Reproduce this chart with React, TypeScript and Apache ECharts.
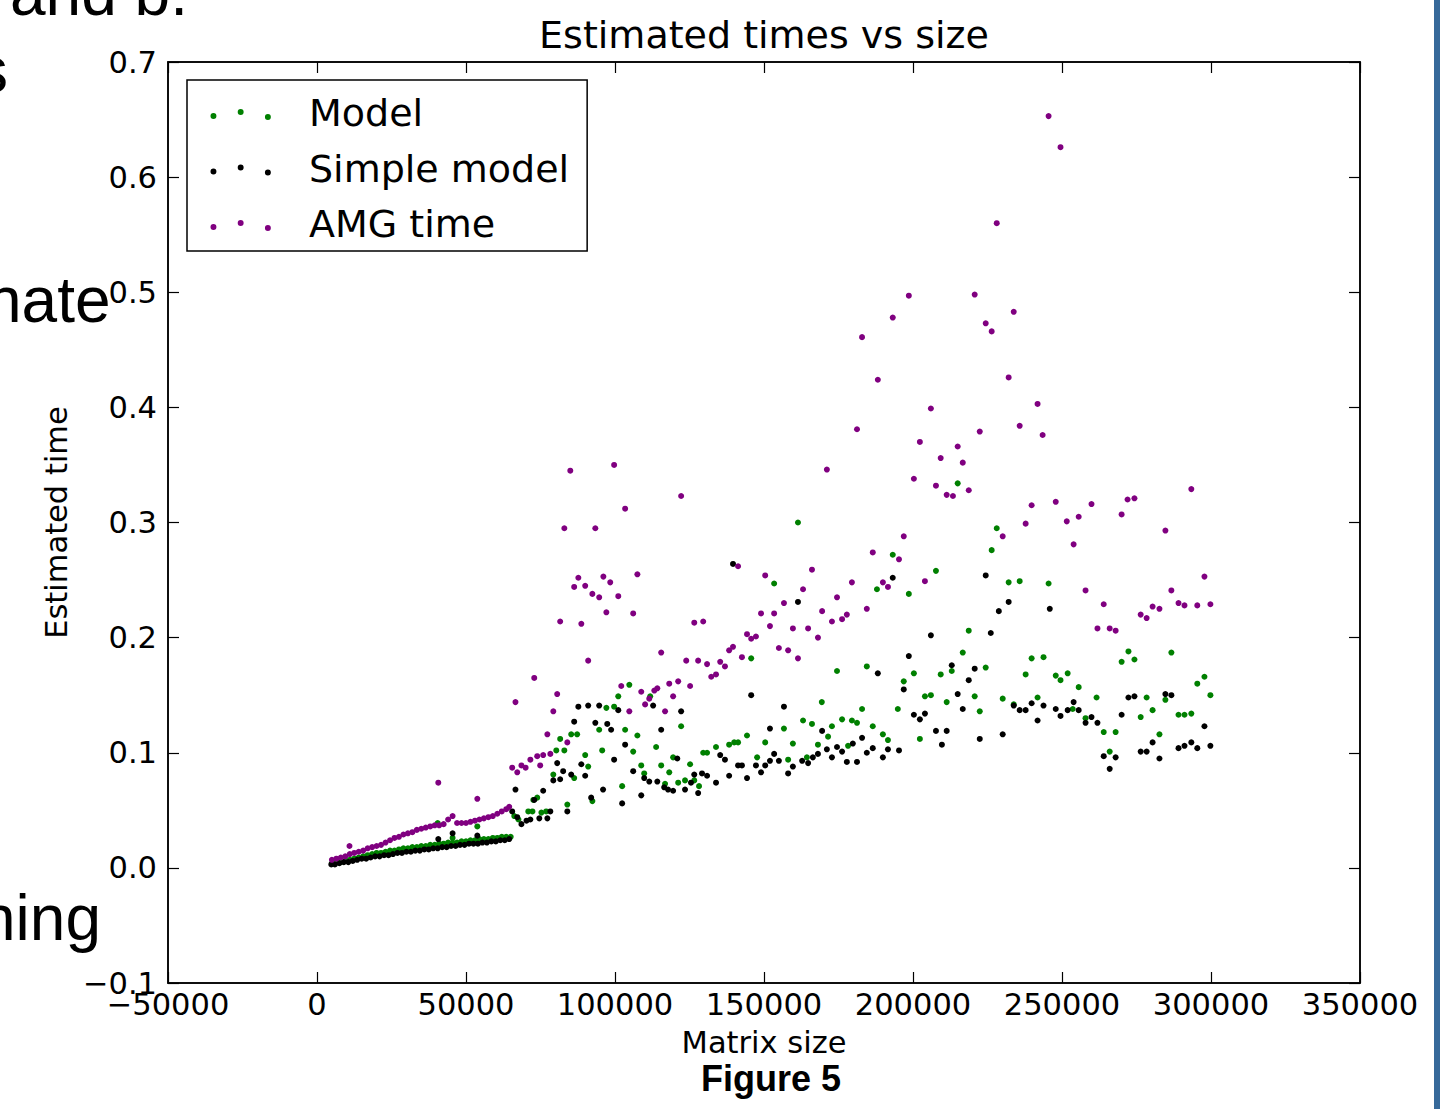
import React, { useEffect, useRef } from "react";
import * as echarts from "echarts";

// ---- data ----
const seriesNames = ["Model", "Simple model", "AMG time"];
const seriesColors = ["#008000", "#000000", "#800080"];

const xMin = -50000;
const xMax = 350000;
const xStep = 50000;
const yMin = -0.1;
const yMax = 0.7;
const yStep = 0.1;

// dense near-linear band for small matrices
const modelDense: number[][] = [
  [5000, 0.004], [6500, 0.005], [8000, 0.005], [9500, 0.006], [11000, 0.007], [12500, 0.008],
  [14000, 0.009], [15500, 0.010], [17000, 0.011], [18500, 0.012], [20000, 0.013], [21500, 0.013],
  [23000, 0.014], [24500, 0.015], [26000, 0.015], [27500, 0.016], [29000, 0.017], [30500, 0.017],
  [32000, 0.018], [33500, 0.018], [35000, 0.019], [36500, 0.019], [38000, 0.020], [39500, 0.020],
  [41000, 0.021], [42500, 0.021], [44000, 0.022], [45500, 0.022], [47000, 0.022], [48500, 0.023],
  [50000, 0.023], [51500, 0.024], [53000, 0.024], [54500, 0.025], [56000, 0.025], [57500, 0.025],
  [59000, 0.026], [60500, 0.026], [62000, 0.027], [63500, 0.027], [65000, 0.027],
];
const modelPoints: number[][] = [
  [40500, 0.039], [53800, 0.036], [45500, 0.026],
  [66200, 0.045], [67600, 0.042], [70900, 0.049], [72300, 0.049], [75300, 0.048], [76900, 0.049],
  [72600, 0.059], [73900, 0.061], [84000, 0.055], [92400, 0.058], [79300, 0.081], [86300, 0.078],
  [80300, 0.102], [83000, 0.102], [81600, 0.112], [85300, 0.116], [87300, 0.116], [90000, 0.098],
  [91000, 0.088], [95700, 0.102], [94700, 0.120], [97100, 0.139], [99700, 0.140], [101100, 0.149],
  [104800, 0.159], [103400, 0.120], [107500, 0.115], [111800, 0.149], [106100, 0.101], [113800, 0.105],
  [108800, 0.089], [109800, 0.082], [115500, 0.089], [118200, 0.083], [119500, 0.096], [122200, 0.123],
  [125200, 0.090], [126600, 0.076], [128200, 0.071], [102400, 0.071], [116800, 0.073], [121200, 0.074],
  [123500, 0.076], [129600, 0.100], [130900, 0.100], [133900, 0.105], [138300, 0.107], [140000, 0.109],
  [141300, 0.109], [144300, 0.115], [145700, 0.182], [147700, 0.096], [150400, 0.109], [153400, 0.247],
  [156700, 0.121], [159700, 0.108], [158100, 0.094], [161400, 0.300], [164400, 0.096], [166100, 0.125],
  [163100, 0.128], [168100, 0.107], [169400, 0.144], [171500, 0.114], [172800, 0.123], [174500, 0.171],
  [176200, 0.129], [178200, 0.106], [179500, 0.128], [181200, 0.126], [182900, 0.138], [184500, 0.175],
  [186500, 0.123], [187900, 0.242], [189900, 0.116], [191600, 0.111], [193200, 0.272], [194900, 0.138],
  [196900, 0.162], [198600, 0.238], [200300, 0.169], [202300, 0.112], [204000, 0.149], [206000, 0.150],
  [207700, 0.258], [209300, 0.168], [211300, 0.144], [213000, 0.171], [215000, 0.334], [216700, 0.187],
  [218700, 0.206], [220700, 0.149], [222400, 0.136], [224400, 0.174], [226400, 0.276], [228100, 0.295],
  [230100, 0.147], [232100, 0.248], [233800, 0.142], [235800, 0.249], [237800, 0.168], [239800, 0.182],
  [241800, 0.148], [243800, 0.183], [245500, 0.247], [247900, 0.167], [249500, 0.163], [251900, 0.169],
  [253600, 0.138], [255600, 0.157], [257900, 0.130], [261600, 0.148], [264000, 0.118], [266000, 0.101],
  [268000, 0.118], [270000, 0.179], [272300, 0.188], [274300, 0.181], [276400, 0.131], [278400, 0.148],
  [280400, 0.137], [282700, 0.116], [284700, 0.146], [286700, 0.187], [289100, 0.133], [291100, 0.133],
  [293400, 0.134], [295400, 0.160], [297800, 0.166], [299800, 0.150],
];

const simpleDense: number[][] = [
  [4800, 0.003], [6000, 0.003], [7500, 0.004], [9000, 0.005], [10500, 0.005], [12000, 0.006],
  [13500, 0.007], [15000, 0.008], [16500, 0.008], [18000, 0.009], [19500, 0.010], [21000, 0.010],
  [22500, 0.011], [24000, 0.011], [25500, 0.012], [27000, 0.013], [28500, 0.013], [30000, 0.014],
  [31500, 0.014], [33000, 0.015], [34500, 0.015], [36000, 0.016], [37500, 0.016], [39000, 0.017],
  [40500, 0.017], [42000, 0.018], [43500, 0.018], [45000, 0.019], [46500, 0.019], [48000, 0.020],
  [49500, 0.020], [51000, 0.021], [52500, 0.021], [54000, 0.021], [55500, 0.022], [57000, 0.022],
  [58500, 0.023], [60000, 0.023], [61500, 0.024], [63000, 0.024], [64500, 0.025],
];
const simplePoints: number[][] = [
  [40700, 0.025], [45500, 0.030], [53800, 0.028], [66600, 0.068], [65500, 0.049], [67200, 0.044],
  [68600, 0.038], [70300, 0.041], [71600, 0.042], [74600, 0.043], [77300, 0.043], [78300, 0.049],
  [84000, 0.049], [72900, 0.059], [75900, 0.067], [79300, 0.076], [81600, 0.077], [85300, 0.081],
  [82600, 0.084], [90000, 0.080], [80600, 0.091], [88700, 0.090], [92000, 0.061], [96000, 0.068],
  [102400, 0.056], [108800, 0.063], [99700, 0.094], [103400, 0.107], [106100, 0.084], [109800, 0.078],
  [111500, 0.075], [114200, 0.075], [116500, 0.070], [117800, 0.068], [119500, 0.067], [123500, 0.068],
  [125500, 0.074], [127900, 0.065], [120900, 0.095], [126600, 0.081], [129200, 0.082], [130900, 0.080],
  [133900, 0.074], [135300, 0.098], [136900, 0.094], [138300, 0.080], [141300, 0.089], [142600, 0.089],
  [144300, 0.078], [147300, 0.089], [149000, 0.083], [150400, 0.089], [152000, 0.093], [153400, 0.099],
  [87700, 0.140], [91000, 0.141], [94700, 0.141], [101100, 0.137], [112800, 0.141], [122200, 0.136],
  [86300, 0.127], [93400, 0.126], [97400, 0.125], [98700, 0.120], [115500, 0.120], [152000, 0.121],
  [145700, 0.150], [139600, 0.264], [161400, 0.231], [156700, 0.140], [155000, 0.093], [159700, 0.088],
  [158100, 0.082], [162800, 0.093], [164800, 0.091], [166400, 0.096], [168100, 0.099], [169500, 0.119],
  [171100, 0.103], [172800, 0.096], [174500, 0.105], [176200, 0.101], [177800, 0.092], [179800, 0.108],
  [181200, 0.092], [182900, 0.113], [184500, 0.100], [186500, 0.104], [188200, 0.169], [189900, 0.096],
  [191600, 0.103], [193200, 0.252], [195300, 0.102], [196900, 0.155], [198600, 0.184], [200300, 0.133],
  [202300, 0.129], [204000, 0.134], [206000, 0.202], [207700, 0.119], [209700, 0.107], [211300, 0.119],
  [213000, 0.176], [215000, 0.151], [216700, 0.138], [218700, 0.163], [220700, 0.173], [222400, 0.112],
  [224400, 0.254], [226100, 0.204], [228800, 0.223], [230100, 0.116], [232100, 0.231], [233800, 0.141],
  [235800, 0.137], [237800, 0.137], [239800, 0.143], [241800, 0.128], [243800, 0.141], [245900, 0.225],
  [247900, 0.138], [249500, 0.132], [251900, 0.137], [253900, 0.144], [255600, 0.137], [257900, 0.126],
  [259900, 0.131], [261900, 0.126], [264000, 0.097], [266000, 0.086], [268000, 0.096], [270000, 0.133],
  [272300, 0.148], [274300, 0.149], [276400, 0.101], [278400, 0.101], [280400, 0.109], [282700, 0.095],
  [284700, 0.151], [286700, 0.150], [289100, 0.104], [291100, 0.106], [293400, 0.109], [295400, 0.104],
  [297800, 0.123], [299800, 0.106],
];

const amgDense: number[][] = [
  [5000, 0.007], [6500, 0.008], [8000, 0.009], [9500, 0.010], [11000, 0.012], [12500, 0.013],
  [14000, 0.014], [15500, 0.015], [17000, 0.017], [18500, 0.018], [20000, 0.019], [21500, 0.020],
  [23000, 0.022], [24500, 0.024], [26000, 0.026], [27500, 0.027], [29000, 0.029], [30500, 0.030],
  [32000, 0.031], [33500, 0.033], [35000, 0.034], [36500, 0.035], [38000, 0.036], [39500, 0.037],
  [41000, 0.037], [42500, 0.038], [44000, 0.042], [45500, 0.045], [47000, 0.039], [48500, 0.039],
  [50000, 0.039], [51500, 0.040], [53000, 0.041], [54500, 0.042], [56000, 0.043], [57500, 0.044],
  [59000, 0.045], [60500, 0.047], [62000, 0.049], [63500, 0.051], [64500, 0.053],
];
const amgPoints: number[][] = [
  [10900, 0.019], [40700, 0.074], [53800, 0.060],
  [65500, 0.087], [66600, 0.144], [67200, 0.083], [68600, 0.089], [70000, 0.087], [71600, 0.094],
  [73900, 0.097], [74900, 0.089], [75900, 0.098], [78300, 0.099],
  [72900, 0.165], [77300, 0.116], [79300, 0.136], [80600, 0.151], [84000, 0.109],
  [81600, 0.214], [91000, 0.180], [88700, 0.212], [83000, 0.295], [85000, 0.345], [93400, 0.295],
  [99700, 0.350], [103400, 0.312], [122200, 0.323], [107500, 0.255], [87700, 0.252], [86300, 0.244],
  [90000, 0.245], [96100, 0.253], [98400, 0.248], [92400, 0.238], [94700, 0.235], [101100, 0.236],
  [97100, 0.222], [106100, 0.221],
  [115500, 0.187], [126600, 0.213], [129600, 0.214], [123900, 0.180], [127900, 0.180], [130900, 0.177],
  [135300, 0.179], [136900, 0.175], [132300, 0.166], [133900, 0.168], [138300, 0.189], [139600, 0.192],
  [142600, 0.183], [144300, 0.203], [145700, 0.199], [147300, 0.201], [149000, 0.221], [153400, 0.221],
  [150400, 0.254], [152000, 0.210], [141300, 0.262],
  [125200, 0.158], [121200, 0.162], [118200, 0.160], [119500, 0.149], [114200, 0.156], [113200, 0.154],
  [111500, 0.147], [108800, 0.153], [110100, 0.142], [116800, 0.136], [102100, 0.158], [104800, 0.136],
  [156700, 0.230], [155000, 0.191], [158100, 0.189], [159700, 0.208], [161400, 0.182], [164800, 0.208],
  [163100, 0.242], [166100, 0.259], [168100, 0.200], [169500, 0.223], [172800, 0.214], [174500, 0.235],
  [176200, 0.216], [177800, 0.220], [179500, 0.248], [184500, 0.225], [186500, 0.274], [189900, 0.248],
  [191600, 0.244], [195300, 0.268], [196900, 0.288], [204000, 0.249],
  [200300, 0.338], [207700, 0.332], [211300, 0.324], [213400, 0.323], [218700, 0.328], [171100, 0.346],
  [181200, 0.381], [188200, 0.424], [182900, 0.461], [193200, 0.478], [198600, 0.497], [220700, 0.498],
  [228100, 0.560], [224400, 0.473], [226400, 0.466], [233800, 0.483], [245500, 0.653], [249500, 0.626],
  [232100, 0.426], [206000, 0.399], [241800, 0.403], [235800, 0.384], [222400, 0.379], [243500, 0.376],
  [202300, 0.370], [215000, 0.366], [209300, 0.356], [216700, 0.352],
  [230100, 0.288], [237800, 0.299], [239800, 0.315], [247900, 0.318], [251600, 0.301], [253900, 0.281],
  [255600, 0.305], [259900, 0.316], [270000, 0.307], [272000, 0.320], [274300, 0.321], [284700, 0.293],
  [293400, 0.329], [257900, 0.241], [264000, 0.229], [261900, 0.208], [266000, 0.208], [268000, 0.206],
  [276400, 0.220], [278400, 0.217], [280400, 0.227], [282700, 0.225], [286700, 0.241], [289100, 0.230],
  [291100, 0.228], [295400, 0.228], [297800, 0.253], [299800, 0.229],
];

const slideFragments = ["and b.", "s", "nate", "hing"];
const captionText = "Figure 5";
const titleText = "Estimated times vs size";
const xName = "Matrix size";
const yName = "Estimated time";

const FONT = "DejaVu Sans";
const SLIDE_FONT = "Liberation Sans";

const minus = (s: string) => s.replace("-", "\u2212");

export default function App() {
  const ref = useRef<HTMLDivElement>(null);

  useEffect(() => {
    document.body.style.margin = "0";
    if (!ref.current) return;
    const chart = echarts.init(ref.current, undefined, { renderer: "svg" });

    const legendIcon =
      "path://M0,0M95,16M0.5,11a3,3 0 1,0 6,0a3,3 0 1,0 -6,0ZM28,7a3,3 0 1,0 6,0a3,3 0 1,0 -6,0ZM55.5,12a3,3 0 1,0 6,0a3,3 0 1,0 -6,0Z";

    const allData = [
      modelDense.concat(modelPoints),
      simpleDense.concat(simplePoints),
      amgDense.concat(amgPoints),
    ];

    const tickStyle = { show: true, inside: true, length: 11, lineStyle: { color: "#000", width: 1.2 } };
    const lineStyle = { show: true, onZero: false, lineStyle: { color: "#000", width: 1.5 } };

    const option: any = {
      animation: false,
      backgroundColor: "#ffffff",
      title: {
        text: titleText,
        left: 759,
        top: 11,
        textAlign: "center",
        textStyle: { fontFamily: FONT, fontSize: 38, fontWeight: "normal", color: "#000" },
      },
      legend: {
        orient: "vertical",
        left: 187,
        top: 80,
        padding: [13, 18, 7, 23],
        itemGap: 15.5,
        itemWidth: 94,
        itemHeight: 16,
        icon: legendIcon,
        borderColor: "#000",
        borderWidth: 1.5,
        backgroundColor: "#fff",
        selectedMode: false,
        textStyle: { fontFamily: FONT, fontSize: 38, color: "#000", lineHeight: 40 },
        data: seriesNames,
      },
      grid: {
        left: 168,
        right: 80,
        top: 62,
        bottom: 126,
        show: true,
        borderColor: "#000",
        borderWidth: 1.5,
        backgroundColor: "transparent",
      },
      xAxis: [
        {
          type: "value",
          min: xMin,
          max: xMax,
          interval: xStep,
          position: "bottom",
          name: xName,
          nameLocation: "middle",
          nameGap: 44,
          nameTextStyle: { fontFamily: FONT, fontSize: 30.5, color: "#000" },
          axisLine: lineStyle,
          axisTick: tickStyle,
          splitLine: { show: false },
          axisLabel: {
            margin: 6,
            fontFamily: FONT,
            fontSize: 30.5,
            color: "#000",
            formatter: (v: number) => minus(String(Math.round(v))),
          },
        },
        {
          type: "value",
          min: xMin,
          max: xMax,
          interval: xStep,
          position: "top",
          axisLine: lineStyle,
          axisTick: tickStyle,
          splitLine: { show: false },
          axisLabel: { show: false },
        },
      ],
      yAxis: [
        {
          type: "value",
          min: yMin,
          max: yMax,
          interval: yStep,
          position: "left",
          name: yName,
          nameLocation: "middle",
          nameGap: 87,
          nameTextStyle: { fontFamily: FONT, fontSize: 30.5, color: "#000" },
          axisLine: lineStyle,
          axisTick: tickStyle,
          splitLine: { show: false },
          axisLabel: {
            margin: 11,
            fontFamily: FONT,
            fontSize: 30.5,
            color: "#000",
            formatter: (v: number) => (Math.abs(v) < 1e-9 ? "0.0" : minus(v.toFixed(1))),
          },
        },
        {
          type: "value",
          min: yMin,
          max: yMax,
          interval: yStep,
          position: "right",
          axisLine: lineStyle,
          axisTick: tickStyle,
          splitLine: { show: false },
          axisLabel: { show: false },
        },
      ],
      series: seriesNames.map((name, i) => ({
        name,
        type: "scatter",
        xAxisIndex: 0,
        yAxisIndex: 0,
        symbol: "circle",
        symbolSize: 6,
        silent: true,
        itemStyle: { color: seriesColors[i], opacity: 1 },
        emphasis: { disabled: true },
        data: allData[i],
      })),
      graphic: [
        {
          type: "text",
          x: 10,
          y: -7,
          style: { text: slideFragments[0], font: `64px "${SLIDE_FONT}"`, fill: "#000", verticalAlign: "middle" },
        },
        {
          type: "text",
          x: -24,
          y: 70,
          style: { text: slideFragments[1], font: `64px "${SLIDE_FONT}"`, fill: "#000", verticalAlign: "middle" },
        },
        {
          type: "text",
          x: -14,
          y: 300,
          style: { text: slideFragments[2], font: `64px "${SLIDE_FONT}"`, fill: "#000", verticalAlign: "middle" },
        },
        {
          type: "text",
          x: -20,
          y: 918,
          style: { text: slideFragments[3], font: `64px "${SLIDE_FONT}"`, fill: "#000", verticalAlign: "middle" },
        },
        {
          type: "text",
          x: 771,
          y: 1078,
          style: {
            text: captionText,
            font: `bold 36px "${SLIDE_FONT}"`,
            fill: "#000",
            align: "center",
            verticalAlign: "middle",
          },
        },
        {
          type: "rect",
          shape: { x: 1434, y: 0, width: 6, height: 1109 },
          style: { fill: "#36699a" },
        },
      ],
    };

    chart.setOption(option);
    return () => chart.dispose();
  }, []);

  return <div ref={ref} style={{ width: 1440, height: 1109 }} />;
}
